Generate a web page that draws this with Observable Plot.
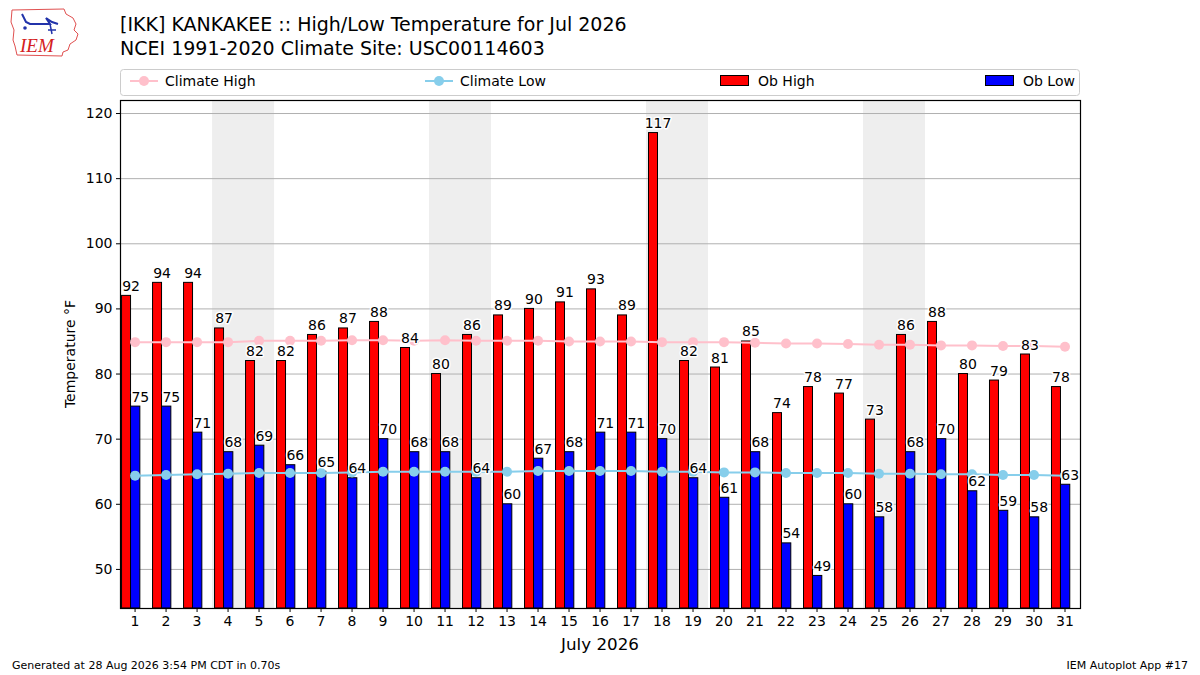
<!DOCTYPE html>
<html>
<head>
<meta charset="utf-8">
<script src="https://cdn.jsdelivr.net/npm/d3@7"></script>
<script src="https://cdn.jsdelivr.net/npm/@observablehq/plot@0.6"></script>
<style>
  body { margin: 0; background: #fff; font-family: "DejaVu Sans", sans-serif; }
  #wrap { position: relative; width: 1200px; height: 675px; overflow: hidden; }
  #wrap > svg, #chart svg { position: absolute; left: 0; top: 0; }
</style>
</head>
<body>
<div id="wrap">
  <div id="chart"></div>
</div>
<script>
// ---- data ----
const days = d3.range(1, 32);
const obHigh = [92,94,94,87,82,82,86,87,88,84,80,86,89,90,91,93,89,117,82,81,85,74,78,77,73,86,88,80,79,83,78];
const obLow  = [75,75,71,68,69,66,65,64,70,68,68,64,60,67,68,71,71,70,64,61,68,54,49,60,58,68,70,62,59,58,63];
const climHigh = [84.9,84.9,84.9,84.9,85.1,85.1,85.1,85.2,85.2,85.1,85.2,85.1,85.1,85.1,85.0,85.0,85.0,84.9,84.9,84.9,84.8,84.7,84.7,84.6,84.5,84.5,84.4,84.4,84.3,84.3,84.2];
const climLow  = [64.4,64.5,64.6,64.7,64.8,64.8,64.8,64.9,65.0,65.0,65.0,65.0,65.0,65.1,65.1,65.1,65.1,65.0,65.0,64.9,64.9,64.8,64.8,64.8,64.7,64.7,64.6,64.6,64.5,64.5,64.4];
const weekendStarts = [4, 11, 18, 25];
const yTicks = [50, 60, 70, 80, 90, 100, 110, 120];

const rows = days.map((d, i) => ({day: d, high: obHigh[i], low: obLow[i], ch: climHigh[i], cl: climLow[i]}));
const yMin = d3.min(obLow) - 5;
const yMax = d3.max(obHigh) + 5;

const chart = Plot.plot({
  width: 1200,
  height: 675,
  marginLeft: 120,
  marginRight: 120,
  marginTop: 100,
  marginBottom: 67,
  style: {fontFamily: "DejaVu Sans, sans-serif", fontSize: "14px", color: "#000", background: "transparent"},
  x: {domain: [0.53, 31.5], label: null},
  y: {domain: [yMin, yMax], label: null},
  marks: [
    Plot.rect(weekendStarts, {x1: d => d - 0.5, x2: d => d + 1.5, fill: "#eeeeee"}),
    Plot.gridY(yTicks, {stroke: "#b0b0b0", strokeOpacity: 1, strokeWidth: 1}),
    Plot.rectY(rows, {x1: d => d.day - 0.42, x2: d => d.day - 0.13, y1: yMin, y2: "high", fill: "red", stroke: "black", strokeWidth: 1}),
    Plot.rectY(rows, {x1: d => d.day - 0.13, x2: d => d.day + 0.17, y1: yMin, y2: "low", fill: "blue", stroke: "black", strokeWidth: 1}),
    Plot.line(rows, {x: "day", y: "ch", stroke: "pink", strokeWidth: 2}),
    Plot.dot(rows, {x: "day", y: "ch", fill: "pink", r: 5}),
    Plot.line(rows, {x: "day", y: "cl", stroke: "skyblue", strokeWidth: 2}),
    Plot.dot(rows, {x: "day", y: "cl", fill: "skyblue", r: 5}),
    Plot.text(rows, {x: d => d.day - 0.13, y: "high", text: d => String(d.high), lineAnchor: "bottom", dy: -5, fill: "black", stroke: "white", strokeWidth: 3, fontSize: 14}),
    Plot.text(rows, {x: d => d.day + 0.17, y: "low", text: d => String(d.low), lineAnchor: "bottom", dy: -5, fill: "black", stroke: "white", strokeWidth: 3, fontSize: 14}),
    Plot.frame({stroke: "black", strokeWidth: 1.2}),
    Plot.axisY({ticks: yTicks, tickSize: 4, tickPadding: 4, label: null, fontSize: 14}),
    Plot.axisX({ticks: days, tickSize: 4, tickPadding: 4, label: null, fontSize: 14, tickFormat: d => String(d)})
  ]
});
document.getElementById("chart").appendChild(chart);

// ---- overlay: titles, legend, labels, footer ----
const ov = d3.select("#wrap").append("svg")
  .attr("width", 1200).attr("height", 675)
  .style("position", "absolute").style("left", 0).style("top", 0)
  .style("font-family", "DejaVu Sans, sans-serif");

// logo
const logo = ov.append("g");
logo.append("path")
  .attr("d", "M12,10 L64,9 L66,14 L73,18 L76,24 L74,30 L78,34 L76,40 L70,44 L68,50 L63,52 L62,56 L17,55 L15,46 L13,40 L14,30 L11,22 Z")
  .attr("fill", "none").attr("stroke", "#e05050").attr("stroke-width", 1);
logo.append("path").attr("d", "M22,14 L26,22 L30,24 L50,24 L46,18 L52,22 L58,24").attr("fill", "none").attr("stroke", "#2233aa").attr("stroke-width", 2);
logo.append("path").attr("d", "M50,24 L52,34 M48,30 L56,30").attr("fill", "none").attr("stroke", "#2233aa").attr("stroke-width", 1.5);
logo.append("circle").attr("cx", 25).attr("cy", 28).attr("r", 1.8).attr("fill", "#2233aa");
logo.append("text").attr("x", 20).attr("y", 52).text("IEM")
  .attr("font-family", "Liberation Serif, serif").attr("font-style", "italic")
  .attr("font-size", 19).attr("fill", "#d42020");

// titles
ov.append("text").attr("x", 120).attr("y", 31).attr("font-size", 19).text("[IKK] KANKAKEE :: High/Low Temperature for Jul 2026");
ov.append("text").attr("x", 120).attr("y", 55).attr("font-size", 19).text("NCEI 1991-2020 Climate Site: USC00114603");

// legend
const lg = ov.append("g");
lg.append("rect").attr("x", 120.5).attr("y", 69.5).attr("width", 959).attr("height", 26)
  .attr("rx", 3).attr("fill", "white").attr("stroke", "#cccccc");
const legendItems = [
  {label: "Climate High", kind: "line", color: "pink", x: 130},
  {label: "Climate Low", kind: "line", color: "skyblue", x: 425},
  {label: "Ob High", kind: "bar", color: "red", x: 720},
  {label: "Ob Low", kind: "bar", color: "blue", x: 985}
];
for (const it of legendItems) {
  if (it.kind === "line") {
    lg.append("line").attr("x1", it.x).attr("x2", it.x + 28).attr("y1", 81).attr("y2", 81).attr("stroke", it.color).attr("stroke-width", 2);
    lg.append("circle").attr("cx", it.x + 14).attr("cy", 81).attr("r", 5).attr("fill", it.color);
  } else {
    lg.append("rect").attr("x", it.x + 0.5).attr("y", 75.5).attr("width", 28).attr("height", 10).attr("fill", it.color).attr("stroke", "black");
  }
  lg.append("text").attr("x", it.x + (it.kind === "line" ? 35 : 38)).attr("y", 86).attr("font-size", 14).text(it.label);
}

// axis labels
ov.append("text").attr("x", 600).attr("y", 650).attr("text-anchor", "middle").attr("font-size", 16.7).text("July 2026");
ov.append("text").attr("transform", "translate(75,354) rotate(-90)").attr("text-anchor", "middle").attr("font-size", 14).text("Temperature °F");

// footer
ov.append("text").attr("x", 12).attr("y", 669).attr("font-size", 11).text("Generated at 28 Aug 2026 3:54 PM CDT in 0.70s");
ov.append("text").attr("x", 1188).attr("y", 669).attr("text-anchor", "end").attr("font-size", 11).text("IEM Autoplot App #17");
</script>
</body>
</html>
